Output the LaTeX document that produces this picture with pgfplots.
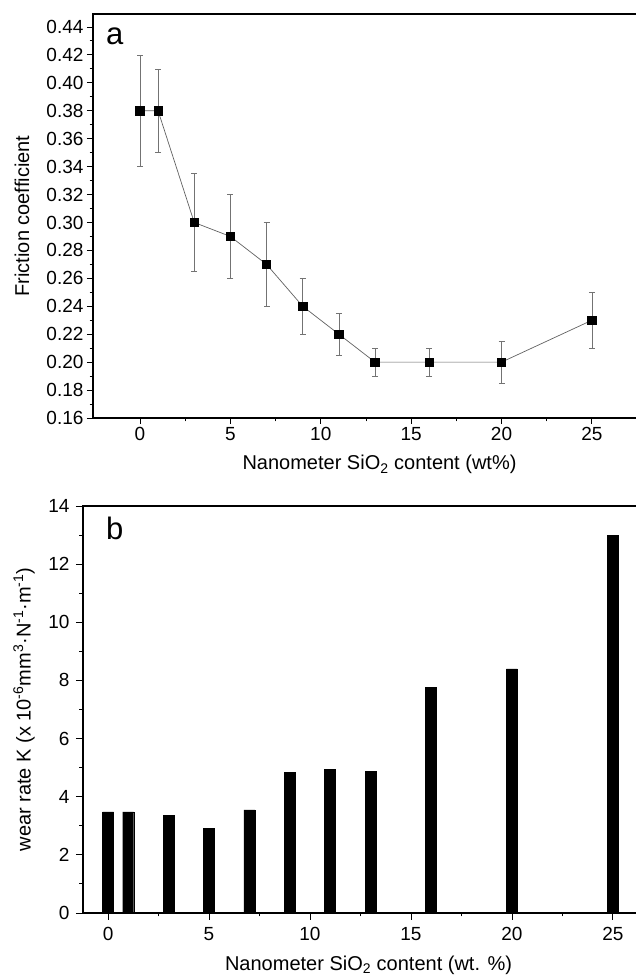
\documentclass[border=0pt]{standalone}
\usepackage{fontspec}
\setmainfont{Liberation Sans}
\usepackage{pgfplots}
\pgfplotsset{compat=1.18}

\pgfplotsset{
  panel/.style={
    scale only axis,
    axis line style={line width=1.1pt},
    tick align=outside,
    tick style={black, line width=0.9pt},
    major tick length=6pt,
    minor tick length=3.5pt,
    xtick pos=left, ytick pos=left,
    ticklabel style={font=\fontsize{19}{21}\selectfont},
    label style={font=\fontsize{20}{23}\selectfont},
    /pgf/number format/assume math mode=true,
  }
}

\begin{document}
\begin{tikzpicture}
\useasboundingbox (0pt,0pt) rectangle (635pt,977pt);

% (a) friction coefficient
\begin{axis}[panel,
  at={(93pt,559pt)}, anchor=south west,
  width=549pt, height=404pt,
  xmin=-2.6, xmax=27.77, ymin=0.16, ymax=0.4493,
  xtick={0,5,10,15,20,25},
  minor xtick={2.5,7.5,12.5,17.5,22.5,27.5},
  ytick={0.16,0.18,0.20,0.22,0.24,0.26,0.28,0.30,0.32,0.34,0.36,0.38,0.40,0.42,0.44},
  minor y tick num=1,
  yticklabel style={/pgf/number format/.cd, fixed, fixed zerofill, precision=2},
  xlabel={Nanometer SiO\textsubscript{2} content (wt\%)},
  ylabel={Friction coefficient},
  xlabel style={at={(axis description cs:0.5,0)}, anchor=base, yshift=-52pt, xshift=12pt},
  ylabel style={at={([xshift=-71pt]axis description cs:0,0.5)}, anchor=center},
]
\addplot[color=black!62, line width=0.7pt,
  mark=square*, mark size=4.2pt, mark options={black, solid},
  error bars/.cd, y dir=both, y explicit,
  error bar style={black!55, line width=0.6pt},
  error mark options={rotate=90, mark size=3pt, black!55, line width=0.6pt}]
  table[x=x, y=y, y error=e] {
  x   y     e
  0   0.38  0.04
  1   0.38  0.03
  3   0.30  0.035
  5   0.29  0.03
  7   0.27  0.03
  9   0.24  0.02
  11  0.22  0.015
  13  0.20  0.01
  16  0.20  0.01
  20  0.20  0.015
  25  0.23  0.02
};
\node[anchor=base west, inner sep=0, font=\fontsize{31}{31}\selectfont]
  at ([xshift=13pt, yshift=-31pt]rel axis cs:0,1) {a};
\end{axis}

% (b) wear rate
\begin{axis}[panel,
  at={(83pt,64pt)}, anchor=south west,
  width=559pt, height=407pt,
  xmin=-1.24, xmax=26.44, ymin=0, ymax=14,
  xtick={0,5,10,15,20,25},
  minor xtick={2.5,7.5,12.5,17.5,22.5},
  ytick={0,2,4,6,8,10,12,14},
  minor y tick num=1,
  major tick length=7pt,
  yticklabel style={xshift=-3pt},
  xticklabel style={yshift=-4pt},
  xlabel={Nanometer SiO\textsubscript{2} content (wt. \%)},
  ylabel={wear rate K (x 10\textsuperscript{-6}mm\textsuperscript{3}·N\textsuperscript{-1}·m\textsuperscript{-1})},
  xlabel style={at={(axis description cs:0.5,0)}, anchor=base, yshift=-57pt, xshift=6pt},
  ylabel style={at={([xshift=-59pt]axis description cs:0,0.5)}, anchor=center},
]
\addplot[ybar, bar width=11pt, fill=black, draw=black] coordinates {
  (0,3.48) (1,3.48) (3,3.37) (5,2.90) (7,3.55) (9,4.83) (11,4.94) (13,4.87)
  (16,7.75) (20,8.40) (25,13.0)
};
\node[anchor=base west, inner sep=0, font=\fontsize{31}{31}\selectfont]
  at ([xshift=23pt, yshift=-34pt]rel axis cs:0,1) {b};
\end{axis}
\end{tikzpicture}
\end{document}
